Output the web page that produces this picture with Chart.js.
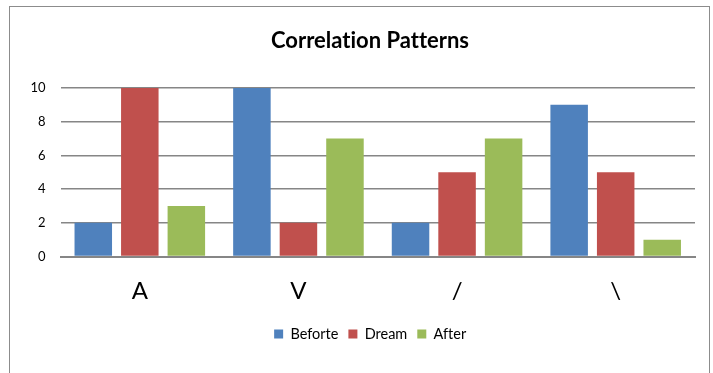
<!DOCTYPE html>
<html>
<head>
<meta charset="utf-8">
<script src="https://cdn.jsdelivr.net/npm/chart.js@4"></script>
<style>
  html, body { margin: 0; padding: 0; background: #fff; }
  #wrap { position: absolute; left: 0; top: 0; width: 713px; height: 373px; }
  #frame { position: absolute; left: 9px; top: 6px; width: 701px; height: 380px; border: 1px solid #8c8c8c; box-sizing: border-box; pointer-events: none; }
</style>
</head>
<body>
<div id="wrap"><canvas id="c" width="713" height="373"></canvas></div>
<div id="frame"></div>
<script>
const categories = ["A", "V", "/", "\\"];
const beforte = [2, 10, 2, 9];
const dream = [10, 2, 5, 5];
const after = [3, 7, 7, 1];
const seriesNames = ["Beforte", "Dream", "After"];
const yTicks = [0, 2, 4, 6, 8, 10];

const FONT = "Lato, 'Open Sans', sans-serif";

const canvas = document.getElementById('c');
const ctx0 = canvas.getContext('2d');
if ('textRendering' in ctx0) ctx0.textRendering = 'optimizeSpeed';

const chart = new Chart(canvas, {
  type: 'bar',
  data: {
    labels: categories,
    datasets: [
      { label: seriesNames[0], data: beforte, backgroundColor: '#4F81BD', borderWidth: 0 },
      { label: seriesNames[1], data: dream, backgroundColor: '#C0504D', borderWidth: 0 },
      { label: seriesNames[2], data: after, backgroundColor: '#9BBB59', borderWidth: 0 }
    ]
  },
  options: {
    responsive: false,
    animation: false,
    devicePixelRatio: 1,
    layout: { padding: { left: 45, right: 18, top: 0, bottom: 21.75 } },
    datasets: { bar: { categoryPercentage: 0.88, barPercentage: 0.806 } },
    plugins: {
      title: {
        display: true,
        text: 'Correlation Patterns',
        color: '#000',
        font: { family: FONT, size: 22, weight: 'bold' },
        padding: { top: 28, bottom: 33.6 }
      },
      legend: {
        position: 'bottom',
        labels: {
          color: '#000',
          font: { family: FONT, size: 14.5 },
          boxWidth: 9, boxHeight: 9,
          padding: 10
        }
      },
      tooltip: { enabled: false }
    },
    scales: {
      y: {
        min: 0, max: 10,
        afterBuildTicks: (s) => { s.ticks = yTicks.map(v => ({ value: v })); },
        afterFit: (s) => { s.width = 15.5; },
        ticks: { color: '#000', font: { family: FONT, size: 13 }, padding: 15 },
        grid: { color: '#868686', lineWidth: 1.5, drawTicks: false },
        border: { display: false }
      },
      x: {
        afterFit: (s) => { s.height = 60.25; },
        ticks: { color: '#000', font: { family: FONT, size: 24 }, padding: 20 },
        grid: { display: false, drawTicks: false },
        border: { display: true, color: '#868686', width: 2 }
      }
    }
  }
});
// let the narrow y axis draw its tick labels to the left of its box
chart.scales.y._computeLabelArea = () => undefined;
if ('textRendering' in chart.ctx) chart.ctx.textRendering = 'optimizeSpeed';
chart.draw();
</script>
</body>
</html>
